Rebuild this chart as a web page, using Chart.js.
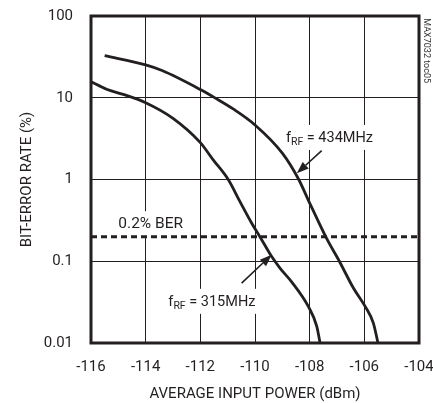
<!DOCTYPE html>
<html>
<head>
<meta charset="utf-8">
<script src="https://cdn.jsdelivr.net/npm/chart.js@4.4.0/dist/chart.umd.min.js"></script>
<style>
  html, body { margin: 0; padding: 0; background: #fff; }
  #wrap { width: 433px; height: 403px; }
</style>
</head>
<body>
<div id="wrap"><canvas id="berChart" width="433" height="403"></canvas></div>
<script>
const powerTicks = [-116, -114, -112, -110, -108, -106, -104];
const berTicks = [100, 10, 1, 0.1, 0.01];

// fRF = 434MHz
const power434 = [-115.5, -114.0, -113.4, -112.0, -111.45, -110.8, -110.0, -109.0, -108.4, -108.05, -107.38, -106.9, -106.4, -105.97, -105.67, -105.5];
const ber434 = [32.7, 25.2, 21.5, 12.6, 9.9, 7.3, 4.65, 2.1, 1.0, 0.56, 0.19, 0.098, 0.047, 0.028, 0.0175, 0.01];

// fRF = 315MHz
const power315 = [-116.0, -115.43, -114.82, -114.0, -113.0, -112.0, -111.53, -110.98, -110.55, -110.12, -109.81, -109.39, -109.08, -108.66, -108.05, -107.74, -107.62];
const ber315 = [15.7, 12.7, 11.0, 8.7, 5.6, 2.83, 1.74, 1.0, 0.537, 0.292, 0.197, 0.114, 0.082, 0.056, 0.028, 0.016, 0.01];

const berLimit = 0.2;

const ink = '#231f20';
const fontFamily = "Roboto, 'Liberation Sans', sans-serif";

function points(xs, ys) {
  return xs.map((x, i) => ({ x: x, y: ys[i] }));
}

// callouts, anchored in data units
const notes = [
  { main: 'f', sub: 'RF', rest: ' = 434MHz', x: -108.87, y: 2.88, from: [-107.56, 2.25], to: [-108.47, 1.19] },
  { main: 'f', sub: 'RF', rest: ' = 315MHz', x: -113.17, y: 0.0285, from: [-110.49, 0.054], to: [-109.39, 0.12] },
  { main: '0.2% BER', sub: '', rest: '', x: -115.0, y: 0.254 }
];

const notesPlugin = {
  id: 'notes',
  beforeDatasetsDraw(chart) {
    const { ctx } = chart;
    const xs = chart.scales.x, ys = chart.scales.y;
    ctx.save();
    ctx.textBaseline = 'alphabetic';
    ctx.textAlign = 'left';
    notes.forEach(n => {
      let px = xs.getPixelForValue(n.x);
      const py = ys.getPixelForValue(n.y);
      const big = (n.sub ? '14.5px ' : '15.5px ') + fontFamily;
      const small = '10.5px ' + fontFamily;
      ctx.font = big;
      const w1 = ctx.measureText(n.main).width;
      const w3 = ctx.measureText(n.rest).width;
      ctx.font = small;
      const w2 = ctx.measureText(n.sub).width;
      ctx.fillStyle = '#fff';
      ctx.fillRect(px - 2, py - 17, w1 + w2 + w3 + 4, 25);
      ctx.fillStyle = ink;
      ctx.font = big;
      ctx.fillText(n.main, px, py);
      px += w1;
      if (n.sub) {
        ctx.font = small;
        ctx.fillText(n.sub, px, py + 3);
        px += w2;
      }
      ctx.font = big;
      ctx.fillText(n.rest, px, py);
    });
    ctx.restore();
  },
  afterDatasetsDraw(chart) {
    const { ctx } = chart;
    const xs = chart.scales.x, ys = chart.scales.y;
    ctx.save();
    ctx.strokeStyle = ink;
    ctx.fillStyle = ink;
    ctx.lineWidth = 1.6;
    notes.filter(n => n.from).forEach(n => {
      const x0 = xs.getPixelForValue(n.from[0]), y0 = ys.getPixelForValue(n.from[1]);
      const x1 = xs.getPixelForValue(n.to[0]), y1 = ys.getPixelForValue(n.to[1]);
      const a = Math.atan2(y1 - y0, x1 - x0);
      const len = 12, half = 4.5;
      const bx = x1 - len * Math.cos(a), by = y1 - len * Math.sin(a);
      ctx.beginPath();
      ctx.moveTo(x0, y0);
      ctx.lineTo(bx, by);
      ctx.stroke();
      ctx.beginPath();
      ctx.moveTo(x1, y1);
      ctx.lineTo(bx + half * Math.sin(a), by - half * Math.cos(a));
      ctx.lineTo(bx - half * Math.sin(a), by + half * Math.cos(a));
      ctx.closePath();
      ctx.fill();
    });
    ctx.restore();
  },
  afterDraw(chart) {
    const { ctx, chartArea } = chart;
    ctx.save();
    ctx.strokeStyle = ink;
    ctx.lineWidth = 3;
    ctx.strokeRect(chartArea.left, chartArea.top, chartArea.right - chartArea.left, chartArea.bottom - chartArea.top);
    // figure tag on the right edge
    ctx.translate(426.7, 18.3);
    ctx.rotate(Math.PI / 2);
    ctx.font = '9px ' + fontFamily;
    ctx.fillStyle = '#333';
    ctx.textBaseline = 'middle';
    ctx.textAlign = 'left';
    ctx.fillText('MAX7032 toc05', 0, 0);
    ctx.restore();
  }
};

Chart.defaults.font.family = fontFamily;
Chart.defaults.color = ink;

const ctx = document.getElementById('berChart').getContext('2d');
new Chart(ctx, {
  type: 'line',
  data: {
    datasets: [
      {
        label: 'fRF = 434MHz',
        data: points(power434, ber434),
        borderColor: ink,
        borderWidth: 2.8,
        pointRadius: 0,
        cubicInterpolationMode: 'monotone',
        fill: false
      },
      {
        label: 'fRF = 315MHz',
        data: points(power315, ber315),
        borderColor: ink,
        borderWidth: 2.8,
        pointRadius: 0,
        cubicInterpolationMode: 'monotone',
        fill: false
      },
      {
        label: '0.2% BER',
        data: points([powerTicks[0], powerTicks[powerTicks.length - 1]], [berLimit, berLimit]),
        borderColor: ink,
        borderWidth: 3,
        borderDash: [6, 4],
        pointRadius: 0,
        fill: false
      }
    ]
  },
  options: {
    responsive: false,
    animation: false,
    devicePixelRatio: 1,
    layout: { padding: { top: 16, right: 14, left: 0, bottom: 0 } },
    plugins: {
      legend: { display: false },
      tooltip: { enabled: false }
    },
    scales: {
      x: {
        type: 'linear',
        min: -116,
        max: -104,
        afterBuildTicks: (scale) => { scale.ticks = powerTicks.map(v => ({ value: v })); },
        afterFit: (scale) => { scale.height = 60; scale.paddingLeft = 0; scale.paddingRight = 0; },
        grid: { color: ink, lineWidth: 1, drawTicks: false },
        border: { display: false },
        ticks: {
          padding: 15,
          font: { size: 15 },
          callback: (v) => String(v)
        },
        title: {
          display: true,
          text: 'AVERAGE INPUT POWER (dBm)',
          font: { size: 15, lineHeight: 1 },
          padding: { top: 0, bottom: 1 }
        }
      },
      y: {
        type: 'logarithmic',
        min: 0.01,
        max: 100,
        afterBuildTicks: (scale) => { scale.ticks = berTicks.map(v => ({ value: v })); },
        afterFit: (scale) => { scale.width = 91; scale.paddingTop = 0; scale.paddingBottom = 0; },
        grid: { color: ink, lineWidth: 1, drawTicks: false },
        border: { display: false },
        ticks: {
          padding: 18,
          font: { size: 15 },
          callback: (v) => String(v)
        },
        title: {
          display: true,
          text: 'BIT-ERROR RATE (%)',
          font: { size: 15, lineHeight: 1 },
          padding: { top: 19.5, bottom: 0 }
        }
      }
    }
  },
  plugins: [notesPlugin]
});
</script>
</body>
</html>
